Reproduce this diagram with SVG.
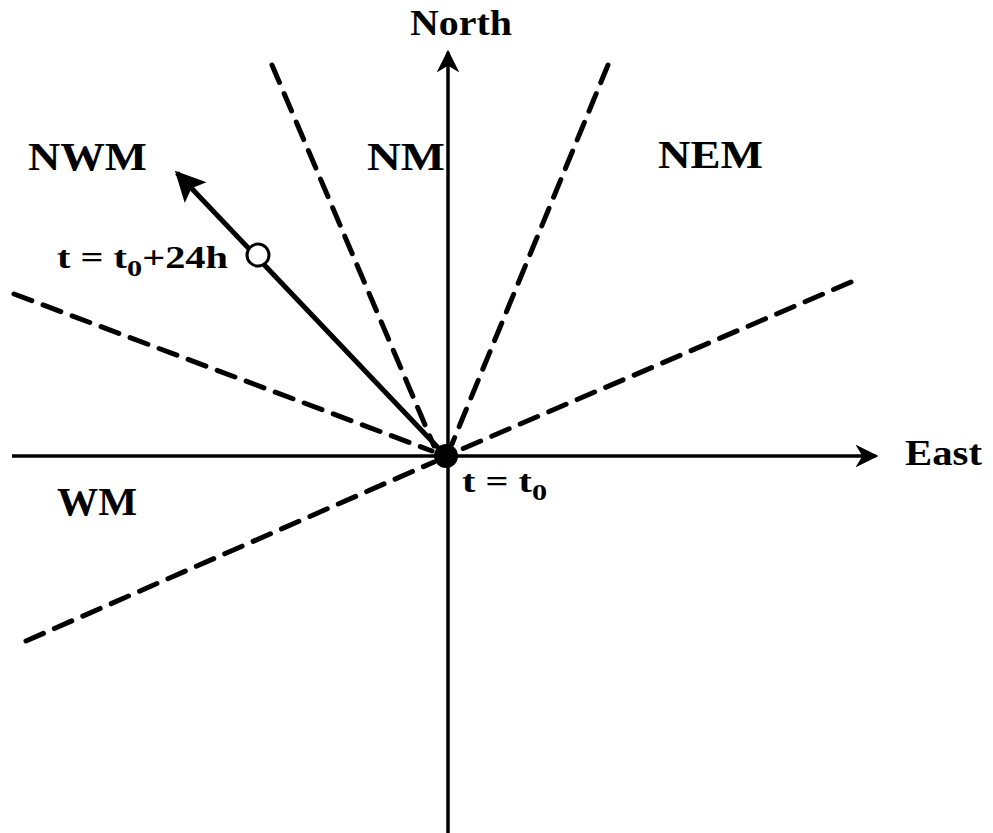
<svg xmlns="http://www.w3.org/2000/svg" width="993" height="833" viewBox="0 0 993 833">
<style>
text{font-family:"Liberation Serif","Times New Roman",serif;font-weight:bold;fill:#000}
.axis{stroke:#000;stroke-width:3.5;fill:none}
.dash{stroke:#000;stroke-width:5;fill:none;stroke-dasharray:19 12;stroke-linecap:round}
.big{font-size:39px}
.mid{font-size:36px}
.small{font-size:32px}
</style>
<defs>
<marker id="ah" viewBox="0 0 10 10" refX="9" refY="5" markerWidth="6.5" markerHeight="6.5" orient="auto" markerUnits="strokeWidth">
<path d="M0,0 L10,5 L0,10 L3,5 Z" fill="#000"/>
</marker>
<marker id="ah2" viewBox="0 0 10 10" refX="9" refY="5" markerWidth="6.5" markerHeight="6" orient="auto" markerUnits="strokeWidth">
<path d="M0,0 L10,5 L0,10 L2,5 Z" fill="#000"/>
</marker>
</defs>
<rect width="993" height="833" fill="#fff"/>
<g id="connectors">
<line class="dash" x1="272" y1="65" x2="434" y2="446"/>
<line class="dash" x1="608" y1="65" x2="452" y2="444"/>
<line class="dash" x1="14" y1="294" x2="432" y2="451"/>
<line class="dash" x1="851" y1="282" x2="462" y2="449"/>
<line class="dash" x1="26" y1="641" x2="434" y2="462"/>
<line class="axis" x1="448" y1="833" x2="448" y2="52" marker-end="url(#ah)"/>
<line class="axis" x1="12" y1="456" x2="876" y2="456" marker-end="url(#ah)"/>
<line id="motion" stroke="#000" stroke-width="5" x1="446" y1="456" x2="177" y2="173" marker-end="url(#ah2)"/>
</g>
<g id="origin"><circle cx="446" cy="456" r="12" fill="#000"/></g>
<g id="point24"><circle cx="258" cy="255" r="11" fill="#fff" stroke="#000" stroke-width="3"/></g>
<g id="labels">
<text class="mid" x="410" y="35" textLength="102" lengthAdjust="spacingAndGlyphs">North</text>
<text class="mid" x="905" y="465" textLength="77" lengthAdjust="spacingAndGlyphs">East</text>
<text class="big" x="28" y="170" textLength="119" lengthAdjust="spacingAndGlyphs">NWM</text>
<text class="big" x="367" y="170" textLength="78" lengthAdjust="spacingAndGlyphs">NM</text>
<text class="big" x="658" y="168" textLength="105" lengthAdjust="spacingAndGlyphs">NEM</text>
<text class="big" x="57" y="515" textLength="80" lengthAdjust="spacingAndGlyphs">WM</text>
<text class="small" x="57" y="268" textLength="171" lengthAdjust="spacingAndGlyphs">t = t<tspan font-size="24" dy="8">0</tspan><tspan dy="-8">+24h</tspan></text>
<text class="small" x="462" y="492" textLength="85" lengthAdjust="spacingAndGlyphs">t = t<tspan font-size="24" dy="8">0</tspan></text>
</g>
</svg>
